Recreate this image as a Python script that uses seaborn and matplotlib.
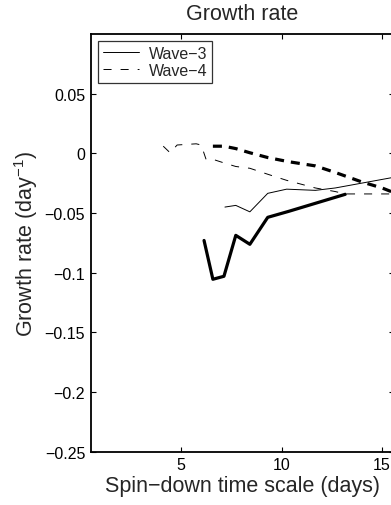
import matplotlib
matplotlib.use("Agg")
import matplotlib.pyplot as plt
import seaborn as sns
import pandas as pd

# Data
w3_thin_x = [7.18, 7.72, 8.42, 9.31, 10.25, 11.68, 12.67, 15.6]
w3_thin_y = [-0.045, -0.0436, -0.049, -0.0335, -0.030, -0.031, -0.029, -0.020]

w3_thick_x = [6.14, 6.58, 7.13, 7.72, 8.42, 9.31, 10.35, 13.17]
w3_thick_y = [-0.073, -0.1055, -0.103, -0.0687, -0.0762, -0.0536, -0.0486, -0.0343]

w4_thin_x = [4.11, 4.45, 4.8, 5.75, 6.0, 6.24, 6.58, 7.13, 7.72, 8.42, 9.31, 10.25, 11.68, 12.67, 13.17, 15.6]
w4_thin_y = [0.006, 0.0005, 0.007, 0.008, 0.007, -0.005, -0.005, -0.008, -0.011, -0.0125, -0.0175,
             -0.0226, -0.029, -0.032, -0.034, -0.034]

w4_thick_x = [6.58, 7.13, 7.72, 8.42, 9.31, 10.35, 11.68, 12.67, 13.17, 14.0, 15.0, 15.6]
w4_thick_y = [0.006, 0.006, 0.004, 0.0005, -0.0035, -0.007, -0.0105, -0.016, -0.019, -0.024, -0.029, -0.033]

x_ticks = [5, 10, 15]
y_ticks = [-0.25, -0.2, -0.15, -0.1, -0.05, 0, 0.05]
y_tick_labels = ["\u22120.25", "\u22120.2", "\u22120.15", "\u22120.1", "\u22120.05", "0", "0.05"]

sns.set_theme(style="ticks")
plt.rcParams["font.family"] = ["Liberation Sans", "DejaVu Sans"]
plt.rcParams["mathtext.fontset"] = "custom"
plt.rcParams["mathtext.rm"] = "Liberation Sans"
plt.rcParams["mathtext.it"] = "Liberation Sans"
plt.rcParams["mathtext.bf"] = "Liberation Sans"
plt.rcParams["lines.scale_dashes"] = False

fig = plt.figure(figsize=(3.91, 5.06), dpi=100)
ax = fig.add_axes([0.232, 0.1053, 0.776, 0.8255])

df_w3t = pd.DataFrame({"x": w3_thin_x, "y": w3_thin_y})
df_w3T = pd.DataFrame({"x": w3_thick_x, "y": w3_thick_y})
df_w4t = pd.DataFrame({"x": w4_thin_x, "y": w4_thin_y})
df_w4T = pd.DataFrame({"x": w4_thick_x, "y": w4_thick_y})

sns.lineplot(data=df_w3t, x="x", y="y", ax=ax, color="black", linewidth=0.7,
             label="Wave\u22123", estimator=None)
sns.lineplot(data=df_w4t, x="x", y="y", ax=ax, color="black", linewidth=0.7,
             linestyle=(0, (5.8, 6.5)), label="Wave\u22124", estimator=None)
sns.lineplot(data=df_w3T, x="x", y="y", ax=ax, color="black", linewidth=2.3,
             estimator=None)
sns.lineplot(data=df_w4T, x="x", y="y", ax=ax, color="black", linewidth=2.3,
             linestyle=(0, (6.5, 5.0)), estimator=None)

ax.set_xlim(0.5, 15.6)
ax.set_ylim(-0.25, 0.1)
ax.set_xticks(x_ticks)
ax.set_xticklabels([str(t) for t in x_ticks])
ax.set_yticks(y_ticks)
ax.set_yticklabels(y_tick_labels)
ax.tick_params(direction="in", length=3.6, width=0.8, top=True, right=True,
               labelsize=11.5, colors="black", pad=4)
for s in ax.spines.values():
    s.set_linewidth(1.3)
    s.set_color("black")

ax.set_title("Growth rate", fontsize=15.5, pad=11)
ax.set_xlabel("Spin\u2212down time scale (days)", fontsize=15.5, labelpad=2)
ax.set_ylabel("Growth rate (day$^{\\mathregular{-1}}$)", fontsize=15.5, labelpad=3)

leg = ax.legend(loc="upper left", fontsize=11.5, frameon=True, fancybox=False,
                edgecolor="black", handlelength=2.3, handletextpad=0.6,
                borderpad=0.3, labelspacing=0.12, borderaxespad=0.45)
leg.get_frame().set_linewidth(0.9)

fig.savefig("out.png", dpi=100, facecolor="white")
